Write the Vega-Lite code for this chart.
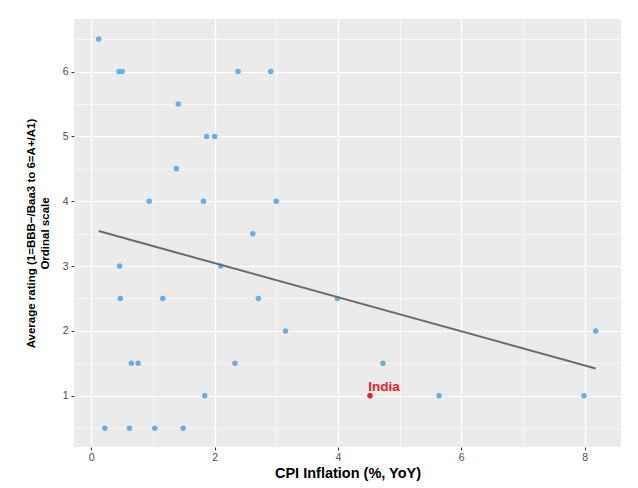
{
  "$schema": "https://vega.github.io/schema/vega-lite/v6.json",
  "autosize": {"type": "none"},
  "padding": {"left": 74, "top": 19, "right": 17, "bottom": 41},
  "width": 547,
  "height": 428,
  "background": "white",
  "config": {
    "view": {"fill": "#EBEBEB", "stroke": null},
    "font": "Liberation Sans"
  },
  "datasets": {
    "pts": [
      {"cpi": 0.12, "rating": 6.5, "group": "Other"},
      {"cpi": 0.45, "rating": 6.0, "group": "Other"},
      {"cpi": 0.5, "rating": 6.0, "group": "Other"},
      {"cpi": 2.38, "rating": 6.0, "group": "Other"},
      {"cpi": 2.91, "rating": 6.0, "group": "Other"},
      {"cpi": 1.41, "rating": 5.5, "group": "Other"},
      {"cpi": 1.87, "rating": 5.0, "group": "Other"},
      {"cpi": 2.0, "rating": 5.0, "group": "Other"},
      {"cpi": 1.38, "rating": 4.5, "group": "Other"},
      {"cpi": 0.94, "rating": 4.0, "group": "Other"},
      {"cpi": 1.82, "rating": 4.0, "group": "Other"},
      {"cpi": 3.0, "rating": 4.0, "group": "Other"},
      {"cpi": 2.62, "rating": 3.5, "group": "Other"},
      {"cpi": 0.46, "rating": 3.0, "group": "Other"},
      {"cpi": 2.1, "rating": 3.0, "group": "Other"},
      {"cpi": 0.47, "rating": 2.5, "group": "Other"},
      {"cpi": 1.16, "rating": 2.5, "group": "Other"},
      {"cpi": 2.71, "rating": 2.5, "group": "Other"},
      {"cpi": 3.99, "rating": 2.5, "group": "Other"},
      {"cpi": 3.15, "rating": 2.0, "group": "Other"},
      {"cpi": 8.18, "rating": 2.0, "group": "Other"},
      {"cpi": 0.65, "rating": 1.5, "group": "Other"},
      {"cpi": 0.76, "rating": 1.5, "group": "Other"},
      {"cpi": 2.33, "rating": 1.5, "group": "Other"},
      {"cpi": 4.73, "rating": 1.5, "group": "Other"},
      {"cpi": 1.84, "rating": 1.0, "group": "Other"},
      {"cpi": 5.64, "rating": 1.0, "group": "Other"},
      {"cpi": 7.99, "rating": 1.0, "group": "Other"},
      {"cpi": 0.22, "rating": 0.5, "group": "Other"},
      {"cpi": 0.62, "rating": 0.5, "group": "Other"},
      {"cpi": 1.03, "rating": 0.5, "group": "Other"},
      {"cpi": 1.49, "rating": 0.5, "group": "Other"},
      {"cpi": 4.52, "rating": 1.0, "group": "India"}
    ],
    "fit": [
      {"cpi": 0.12, "rating": 3.54},
      {"cpi": 8.18, "rating": 1.42}
    ]
  },
  "encoding": {
    "x": {
      "field": "cpi", "type": "quantitative",
      "scale": {"domain": [-0.28, 8.59], "nice": false, "zero": false},
      "axis": {
        "title": "CPI Inflation (%, YoY)",
        "values": [0, 1, 2, 3, 4, 5, 6, 7, 8],
        "labelExpr": "datum.value % 2 == 0 ? format(datum.value, 'd') : ''",
        "domain": false,
        "grid": true,
        "gridColor": "white",
        "gridWidth": {"condition": {"test": "datum.value % 2 == 0", "value": 1.2}, "value": 0.6},
        "tickColor": "#333333",
        "tickOpacity": {"condition": {"test": "datum.value % 2 == 0", "value": 1}, "value": 0},
        "tickSize": 3,
        "labelColor": "#4D4D4D",
        "labelFontSize": 10.5,
        "labelPadding": 2,
        "titleFont": "Liberation Sans",
        "titleFontWeight": "bold",
        "titleFontSize": 14.5,
        "titleColor": "black",
        "titlePadding": 4
      }
    },
    "y": {
      "field": "rating", "type": "quantitative",
      "scale": {"domain": [0.21, 6.81], "nice": false, "zero": false},
      "axis": {
        "title": ["Average rating (1=BBB\u2212/Baa3 to 6=A+/A1)", "Ordinal scale"],
        "values": [0.5, 1, 1.5, 2, 2.5, 3, 3.5, 4, 4.5, 5, 5.5, 6, 6.5],
        "labelExpr": "datum.value % 1 == 0 ? format(datum.value, 'd') : ''",
        "domain": false,
        "grid": true,
        "gridColor": "white",
        "gridWidth": {"condition": {"test": "datum.value % 1 == 0", "value": 1.2}, "value": 0.6},
        "tickColor": "#333333",
        "tickOpacity": {"condition": {"test": "datum.value % 1 == 0", "value": 1}, "value": 0},
        "tickSize": 3,
        "labelColor": "#4D4D4D",
        "labelFontSize": 10.5,
        "labelPadding": 3,
        "titleFont": "Liberation Sans",
        "titleFontWeight": "bold",
        "titleFontSize": 11.5,
        "titleColor": "black",
        "titleLineHeight": 14.5,
        "titleBaseline": "top",
        "titleX": -49,
        "titleY": 214,
        "titleAngle": -90,
        "titleAlign": "center"
      }
    }
  },
  "layer": [
    {
      "data": {"name": "pts"},
      "mark": {"type": "circle", "size": 30, "opacity": 1},
      "encoding": {
        "color": {
          "field": "group", "type": "nominal",
          "scale": {"domain": ["Other", "India"], "range": ["#6AADE2", "#E8202A"]},
          "legend": null
        }
      }
    },
    {
      "data": {"name": "fit"},
      "mark": {"type": "line", "color": "#6B6B6B", "strokeWidth": 2}
    },
    {
      "data": {"name": "pts"},
      "transform": [{"filter": "datum.group == 'India'"}],
      "mark": {"type": "text", "color": "#E8202A", "fontWeight": "bold", "fontSize": 13.5, "align": "center", "baseline": "alphabetic", "dx": 14, "dy": -5, "font": "Liberation Sans"},
      "encoding": {"text": {"field": "group"}}
    }
  ]
}
